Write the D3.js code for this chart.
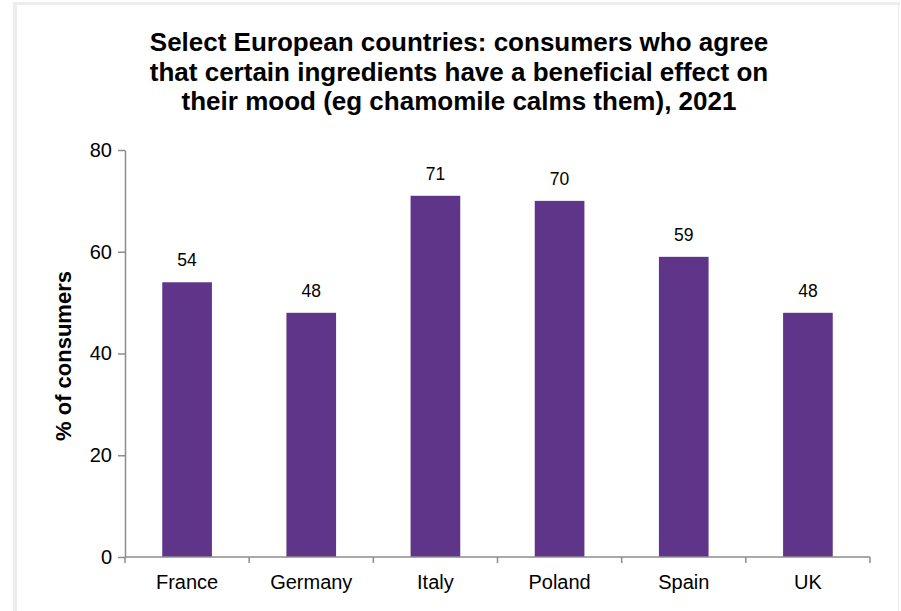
<!DOCTYPE html>
<html>
<head>
<meta charset="utf-8">
<script src="https://cdn.jsdelivr.net/npm/d3@7"></script>
<style>
    body { margin: 0; background: #fff; }
    svg { display: block; font-family: "Liberation Sans", Arial, sans-serif; }
</style>
</head>
<body>
<div id="main_svg"></div>
<script>
// chart data
var countries = ["France", "Germany", "Italy", "Poland", "Spain", "UK"];
var shares = [54, 48, 71, 70, 59, 48];
var yTicks = [0, 20, 40, 60, 80];
var titleLines = [
    "Select European countries: consumers who agree",
    "that certain ingredients have a beneficial effect on",
    "their mood (eg chamomile calms them), 2021"
];

var W = 901, H = 611;
var margin = {top: 150, right: 31, bottom: 54, left: 125},
    width = W - margin.left - margin.right,
    height = H - margin.top - margin.bottom;

var svg = d3.select("#main_svg").append("svg")
    .attr("width", W)
    .attr("height", H);

// light frame around the picture
var frame = svg.append("g").attr("fill", "#ededed");
frame.append("rect").attr("x", 13).attr("y", 2).attr("width", 4).attr("height", H);
frame.append("rect").attr("x", 13).attr("y", 2).attr("width", 887).attr("height", 3);
frame.append("rect").attr("x", 898).attr("y", 2).attr("width", 1).attr("height", H);

// title
svg.append("text")
    .attr("text-anchor", "middle")
    .attr("font-weight", "bold")
    .attr("font-size", 26)
    .attr("fill", "#000")
    .selectAll("tspan")
    .data(titleLines)
    .enter().append("tspan")
    .attr("x", 459)
    .attr("y", function (d, i) { return 51 + i * 29.5; })
    .text(function (d) { return d; });

var g = svg.append("g")
    .attr("transform", "translate(" + margin.left + "," + margin.top + ")");

// scales
var x = d3.scaleBand()
    .domain(countries)
    .range([0, width])
    .paddingInner(0.6)
    .paddingOuter(0.3);
var y = d3.scaleLinear()
    .domain([0, 80])
    .range([height, 0]);

// bars
g.selectAll(".bar")
    .data(shares)
    .enter().append("rect")
    .attr("class", "bar")
    .attr("fill", "#5f3589")
    .attr("x", function (d, i) { return x(countries[i]); })
    .attr("width", x.bandwidth())
    .attr("y", function (d) { return y(d); })
    .attr("height", function (d) { return height - y(d); });

// value labels
g.selectAll(".lbl")
    .data(shares)
    .enter().append("text")
    .attr("class", "lbl")
    .attr("text-anchor", "middle")
    .attr("font-size", 17.5)
    .attr("x", function (d, i) { return x(countries[i]) + x.bandwidth() / 2; })
    .attr("y", function (d) { return y(d) - 16; })
    .text(function (d) { return d; });

// y axis
var yAxis = g.append("g")
    .call(d3.axisLeft(y).tickValues(yTicks).tickSize(7).tickPadding(6).tickSizeOuter(0));
yAxis.selectAll("text").attr("font-size", 20).attr("fill", "#000").attr("font-family", "Liberation Sans, Arial, sans-serif");
yAxis.selectAll("line, path").attr("stroke", "#8c8c8c").attr("stroke-width", 1.5);

// x axis: ticks between categories
var step = width / countries.length;
var xAxis = g.append("g").attr("transform", "translate(0," + height + ")");
xAxis.append("line")
    .attr("x1", 0).attr("x2", width)
    .attr("y1", 0).attr("y2", 0);
xAxis.selectAll(".sep")
    .data(d3.range(countries.length + 1))
    .enter().append("line")
    .attr("class", "sep")
    .attr("x1", function (d) { return d * step; })
    .attr("x2", function (d) { return d * step; })
    .attr("y1", 0).attr("y2", 6);
xAxis.selectAll("line").attr("stroke", "#8c8c8c").attr("stroke-width", 1.5);
xAxis.selectAll(".cat")
    .data(countries)
    .enter().append("text")
    .attr("class", "cat")
    .attr("text-anchor", "middle")
    .attr("font-size", 20)
    .attr("x", function (d) { return x(d) + x.bandwidth() / 2; })
    .attr("y", 32)
    .text(function (d) { return d; });

// y axis title
svg.append("text")
    .attr("transform", "translate(71,356) rotate(-90)")
    .attr("text-anchor", "middle")
    .attr("font-weight", "bold")
    .attr("font-size", 22)
    .text("% of consumers");
</script>
</body>
</html>
